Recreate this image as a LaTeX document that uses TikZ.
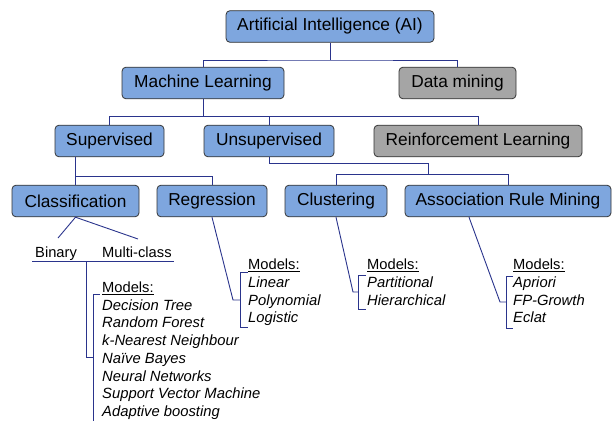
\documentclass[tikz,border=0pt]{standalone}
\usepackage{fontspec}
\setmainfont{Liberation Sans}
\definecolor{boxblue}{RGB}{126,166,222}
\definecolor{boxgrey}{RGB}{165,165,165}
\definecolor{linkblue}{RGB}{42,52,140}
\begin{document}
\begin{tikzpicture}[x=1pt,y=-1pt,
  box/.style={draw=black!80, line width=0.8pt, rounded corners=4pt, minimum height=31.6pt, inner sep=0pt, font=\fontsize{17.3}{20}\selectfont, text=black},
  bluebox/.style={box, fill=boxblue},
  greybox/.style={box, fill=boxgrey},
  link/.style={draw=linkblue, line width=0.9pt},
  lbl/.style={anchor=base west, inner sep=0pt, font=\fontsize{14.7}{18}\selectfont},
  mdl/.style={anchor=base west, inner sep=0pt, font=\fontsize{14.8}{18}\selectfont\itshape}
]
\useasboundingbox (0,0) rectangle (612,420);
% boxes
\node[bluebox, minimum width=208pt] (AI) at (330,26.5) {Artificial Intelligence (AI)};
\node[bluebox, minimum width=162pt] (ML) at (203,83) {Machine Learning};
\node[greybox, minimum width=117pt] (DM) at (457.5,83) {Data mining};
\node[bluebox, minimum width=109pt] (Sup) at (109.5,141) {Supervised};
\node[bluebox, minimum width=130pt] (Unsup) at (269,141) {Unsupervised};
\node[greybox, minimum width=208pt] (RL) at (478,141) {Reinforcement Learning};
\node[bluebox, minimum width=127pt] (Class) at (75.5,201) {Classification};
\node[bluebox, minimum width=110pt] (Reg) at (212,201) {Regression};
\node[bluebox, minimum width=102pt] (Clust) at (336,201) {Clustering};
\node[bluebox, minimum width=206pt] (Assoc) at (508,201) {Association Rule Mining};
% tree connectors
\coordinate (j1) at (330,60);
\draw[link] (AI.south) -- (j1);
\draw[link] (ML.north) |- (j1) -| (DM.north);
\coordinate (j2) at (203,116.7);
\draw[link] (ML.south) -- (j2);
\draw[link] (Sup.north) |- (j2) -| (RL.north);
\draw[link] (j2) -| (Unsup.north);
\coordinate (s1) at (75.5,176.7);
\draw[link] (Sup.south -| Class.north) -- (Class.north);
\draw[link] (s1) -| (Reg.north);
\coordinate (u1) at (428,163.3);
\coordinate (u2) at (428,174.3);
\draw[link] (Unsup.south) |- (u1) -- (u2);
\draw[link] (Clust.north) |- (u2) -| (Assoc.north);
% classification branch
\coordinate (cb) at (58,238);
\coordinate (cm) at (138,239);
\draw[link] (cb) -- (Class.south) -- (cm);
\node[lbl] (bin) at (35,257.5) {Binary};
\node[lbl] (multi) at (102,257.5) {Multi-class};
\coordinate (ul1) at (32,261);
\coordinate (ul2) at (174,261);
\coordinate (ulm) at (86,261);
\coordinate (cj) at (86,357);
\coordinate (cj2) at (93,357);
\coordinate (cbt) at (100,294);
\coordinate (cbt2) at (93,294);
\coordinate (cbb) at (93,425);
\draw[link] (ul1) -- (ul2);
\draw[link] (ulm) -- (cj) -- (cj2);
\draw[link] (cbt) -- (cbt2) -- (cbb);
\node[lbl] (cmh) at (102,292.5) {\underline{Models:}};
\foreach \t [count=\i] in {Decision Tree, Random Forest, k-Nearest Neighbour, Naïve Bayes, Neural Networks, Support Vector Machine, Adaptive boosting}
  \node[mdl] (cm\i) at (102,292.5+17.7*\i) {\t};
% regression branch
\coordinate (r1) at (233,300);
\coordinate (r2) at (240,300);
\draw[link] (Reg.south) -- (r1) -- (r2);
\coordinate (rt) at (248,272);
\coordinate (rt2) at (240,272);
\coordinate (rb2) at (240,327);
\coordinate (rb) at (248,327);
\draw[link] (rt) -- (rt2) -- (rb2) -- (rb);
\node[lbl] (rmh) at (248,269.5) {\underline{Models:}};
\foreach \t [count=\i] in {Linear, Polynomial, Logistic}
  \node[mdl] (rm\i) at (248,269.5+17.8*\i) {\t};
% clustering branch
\coordinate (k1) at (353,292);
\coordinate (k2) at (358,292);
\draw[link] (Clust.south) -- (k1) -- (k2);
\coordinate (kt) at (366,275);
\coordinate (kt2) at (358,275);
\coordinate (kb2) at (358,309);
\coordinate (kb) at (366,309);
\draw[link] (kt) -- (kt2) -- (kb2) -- (kb);
\node[lbl] (kmh) at (367,269.5) {\underline{Models:}};
\foreach \t [count=\i] in {Partitional, Hierarchical}
  \node[mdl] (km\i) at (367,269.5+17.8*\i) {\t};
% association branch
\coordinate (a0) at (Assoc.south -| 469,0);
\coordinate (a1) at (500,302);
\coordinate (a2) at (506,302);
\draw[link] (a0) -- (a1) -- (a2);
\coordinate (at) at (513,276);
\coordinate (at2) at (506,276);
\coordinate (ab2) at (506,328);
\coordinate (ab) at (513,328);
\draw[link] (at) -- (at2) -- (ab2) -- (ab);
\node[lbl] (amh) at (513,269.5) {\underline{Models:}};
\foreach \t [count=\i] in {Apriori, FP-Growth, Eclat}
  \node[mdl] (am\i) at (513,269.5+17.8*\i) {\t};
\end{tikzpicture}
\end{document}
